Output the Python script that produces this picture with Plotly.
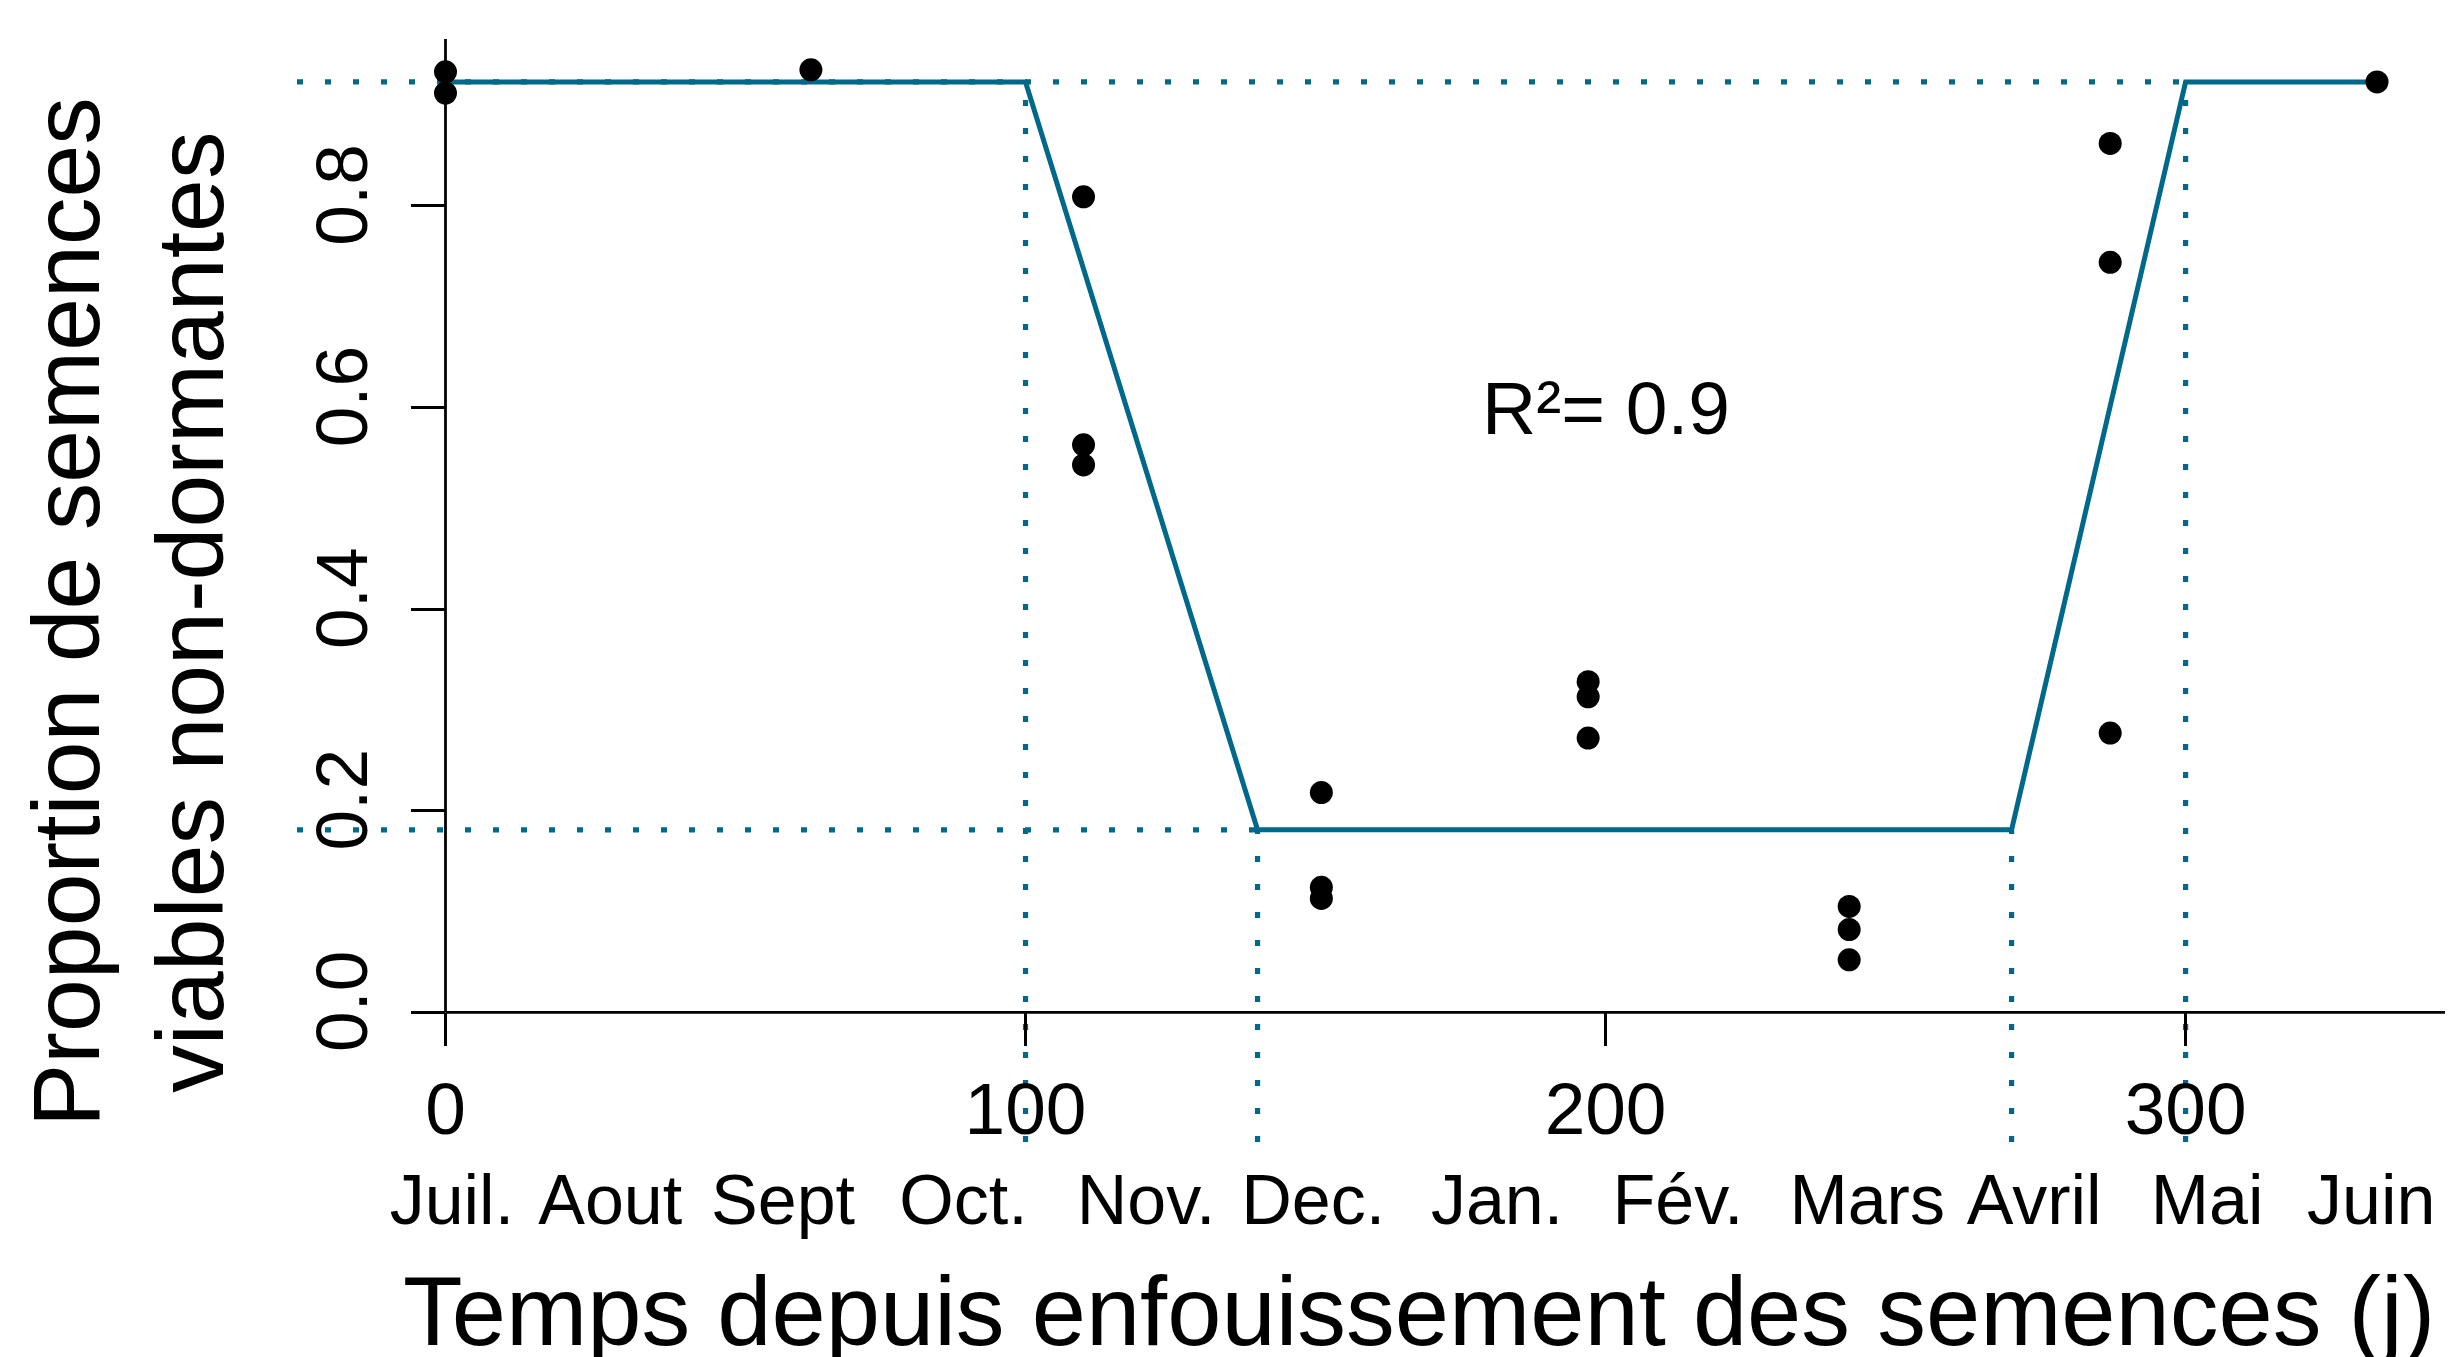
import plotly.graph_objects as go

# ---- data ----
days = [0, 0, 63, 110, 110, 110, 151, 151, 151, 197, 197, 197,
        242, 242, 242, 287, 287, 287, 333]
prop = [0.933, 0.912, 0.935, 0.809, 0.563, 0.543, 0.218, 0.124, 0.113,
        0.328, 0.313, 0.272, 0.105, 0.082, 0.052, 0.862, 0.744, 0.277, 0.923]

fit_x = [0, 100, 140, 270, 300, 333]
fit_y = [0.923, 0.923, 0.181, 0.181, 0.923, 0.923]

x_ticks = [0, 100, 200, 300]
y_ticks = [0.0, 0.2, 0.4, 0.6, 0.8]
y_ticktext = ["0.0", "0.2", "0.4", "0.6", "0.8"]

month_labels = ["Juil.", "Aout", "Sept", "Oct.", "Nov.", "Dec.", "Jan.",
                "Fév.", "Mars", "Avril", "Mai", "Juin"]
month_pos = [1.1, 28.4, 58.2, 89.3, 120.8, 149.6, 181.3, 212.5, 245.1,
             273.9, 303.7, 332.0]

r2_text = "R²= 0.9"
r2_pos = (200, 0.6)

# ---- layout geometry (page pixels; the page body adds an 8px offset) ----
OFF = 8
W, H = 2453 - OFF, 1357 - OFF
plot_left, plot_right, plot_top, plot_bottom = 297, 2453, 39, 1142
ml = plot_left - OFF
mt = plot_top - OFF
mr = OFF + W - plot_right
mb = OFF + H - plot_bottom
x_range = [-25.6, 346.1]
y_range = [-0.1287, 0.9656]
PW, PH = plot_right - plot_left, plot_bottom - plot_top

def xfrac(v):
    return (v - x_range[0]) / (x_range[1] - x_range[0])

def yfrac(v):
    return (v - y_range[0]) / (y_range[1] - y_range[0])

TEAL = "#00688B"
FONT = "Liberation Sans, Arial, Helvetica, sans-serif"

fig = go.Figure()

# dotted guide lines (breakpoints of the fitted model)
hi, lo = fit_y[1], fit_y[2]
guides = [
    ([x_range[0], fit_x[4]], [hi, hi]),
    ([x_range[0], fit_x[2]], [lo, lo]),
    ([fit_x[1], fit_x[1]], [y_range[0], hi]),
    ([fit_x[2], fit_x[2]], [y_range[0], lo]),
    ([fit_x[3], fit_x[3]], [y_range[0], lo]),
    ([fit_x[4], fit_x[4]], [y_range[0], hi]),
]
for gx, gy in guides:
    fig.add_trace(go.Scatter(x=gx, y=gy, mode="lines",
                             line=dict(color=TEAL, width=5.2, dash="6px,22px"),
                             hoverinfo="skip", showlegend=False))

# fitted piecewise model
fig.add_trace(go.Scatter(x=fit_x, y=fit_y, mode="lines",
                         line=dict(color=TEAL, width=5),
                         showlegend=False))

# observations
fig.add_trace(go.Scatter(x=days, y=prop, mode="markers",
                         marker=dict(color="black", size=23),
                         cliponaxis=False, showlegend=False))

# invisible trace so the month axis is drawn
fig.add_trace(go.Scatter(x=month_pos, y=[None] * len(month_pos), xaxis="x2",
                         mode="markers", showlegend=False, hoverinfo="skip"))

# axis lines (at x=0 and y=0)
fig.add_shape(type="line", xref="x", yref="y", x0=0, x1=x_range[1], y0=0, y1=0,
              line=dict(color="black", width=2.8))
fig.add_shape(type="line", xref="x", yref="y", x0=0, x1=0, y0=0, y1=y_range[1],
              line=dict(color="black", width=2.8))

fig.add_annotation(x=r2_pos[0], y=r2_pos[1], xref="x", yref="y", text=r2_text,
                   showarrow=False, font=dict(size=75, color="black", family=FONT))

fig.add_annotation(x=0, y=(plot_bottom - 612) / PH, xref="paper", yref="paper",
                   xanchor="center", yanchor="middle", xshift=128 - plot_left,
                   text="Proportion de semences<br>viables non-dormantes",
                   textangle=-90, showarrow=False,
                   font=dict(size=95, color="black", family=FONT))

fig.add_annotation(x=(1419 - plot_left) / PW, y=(plot_bottom - 1311) / PH,
                   xref="paper", yref="paper", xanchor="center", yanchor="middle",
                   text="Temps depuis enfouissement des semences (j)",
                   showarrow=False, font=dict(size=97.5, color="black", family=FONT))

fig.update_layout(
    width=W, height=H,
    margin=dict(l=ml, r=mr, t=mt, b=mb, pad=0),
    paper_bgcolor="white", plot_bgcolor="white",
    font=dict(family=FONT, color="black"),
    xaxis=dict(range=x_range, anchor="free", position=yfrac(0),
               showgrid=False, zeroline=False, showline=False,
               ticks="outside", ticklen=33, tickwidth=2.8, tickcolor="black",
               tickvals=x_ticks, tickfont=dict(size=73, color="black", family=FONT)),
    xaxis2=dict(range=x_range, overlaying="x", anchor="free", position=0,
                side="bottom", showgrid=False, zeroline=False, showline=False,
                ticks="", tickvals=month_pos, ticktext=month_labels,
                ticklabelstandoff=11,
                tickfont=dict(size=70, color="black", family=FONT)),
    yaxis=dict(range=y_range, anchor="free", position=xfrac(0),
               showgrid=False, zeroline=False, showline=False,
               ticks="outside", ticklen=34, tickwidth=2.8, tickcolor="black",
               tickvals=y_ticks, ticktext=y_ticktext, tickangle=-90,
               ticklabelstandoff=15,
               tickfont=dict(size=73, color="black", family=FONT)),
    showlegend=False,
)

fig.write_html("out.html")
